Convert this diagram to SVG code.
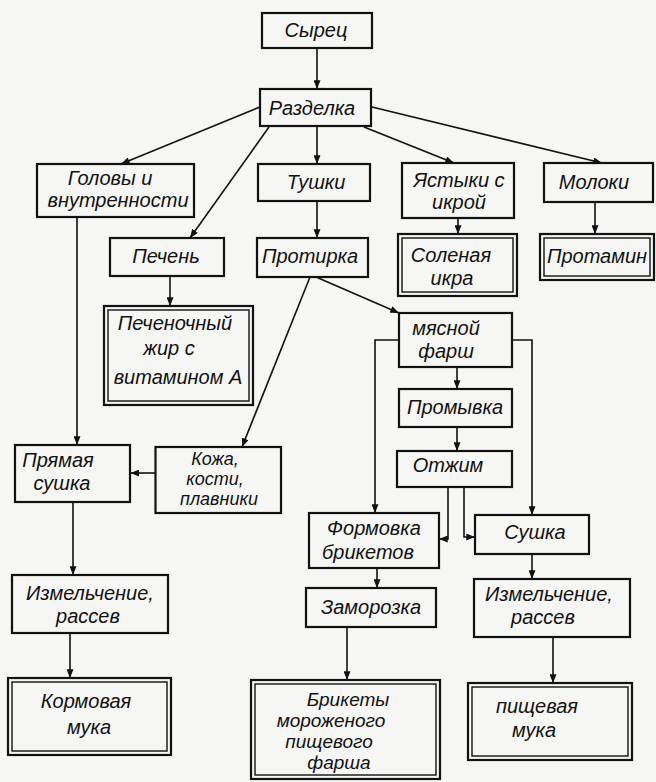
<svg xmlns="http://www.w3.org/2000/svg" width="656" height="782" viewBox="0 0 656 782">
<defs>
<marker id="ah" viewBox="0 0 10 8" refX="10" refY="4" markerWidth="9" markerHeight="7" markerUnits="userSpaceOnUse" orient="auto">
<path d="M0,0 L10,4 L0,8 Z" fill="#111"/>
</marker>
<style>
.b{fill:none;stroke:#111;stroke-width:2.2}
.i{fill:none;stroke:#111;stroke-width:1.4}
.c{fill:none;stroke:#111;stroke-width:1.6;marker-end:url(#ah)}
text{font-family:"Liberation Sans","DejaVu Sans",sans-serif;font-style:italic;font-size:20px;fill:#111;text-anchor:middle}
.s{font-size:18px}
.m{font-size:19px}
</style>
</defs>
<rect width="656" height="782" fill="#f6f6f4"/>

<g id="connectors">
<path class="c" d="M317,48 V89"/>
<path class="c" d="M260,107 L121,164"/>
<path class="c" d="M269,127 L190,238"/>
<path class="c" d="M317,126 V164"/>
<path class="c" d="M364,127 L454,163"/>
<path class="c" d="M372,107 L602,163"/>
<path class="c" d="M77,217 V445"/>
<path class="c" d="M170,276 V306"/>
<path class="c" d="M317,201 V238"/>
<path class="c" d="M458,218 V234"/>
<path class="c" d="M595,202 V234"/>
<path class="c" d="M316,277 L399,313"/>
<path class="c" d="M310,277 L242,447"/>
<path class="c" d="M155.5,473 H130.5"/>
<path class="c" d="M399,340 H375 V513"/>
<path class="c" d="M512,340 H532 V515"/>
<path class="c" d="M457,367 V389"/>
<path class="c" d="M457,427 V451"/>
<path class="c" d="M448,487 V539 H439"/>
<path class="c" d="M464,487 V537 H475"/>
<path class="c" d="M73,502 V575"/>
<path class="c" d="M70,633 V678"/>
<path class="c" d="M377,568 V588"/>
<path class="c" d="M347,627 V680"/>
<path class="c" d="M532,554 V579"/>
<path class="c" d="M553,637 V683"/>
</g>

<g id="syrec"><rect class="b" x="262" y="13" width="110" height="35"/><text x="316" y="37">Сырец</text></g>
<g id="razdelka"><rect class="b" x="260" y="89" width="111" height="37"/><text x="312" y="115">Разделка</text></g>
<g id="golovy"><rect class="b" x="37" y="164" width="157" height="53"/><text x="110" y="185">Головы и</text><text x="118" y="207">внутренности</text></g>
<g id="tushki"><rect class="b" x="258" y="164" width="112" height="37"/><text x="316" y="189">Тушки</text></g>
<g id="yastyki"><rect class="b" x="402" y="163" width="112" height="55"/><text x="459" y="187">Ястыки с</text><text x="459" y="209">икрой</text></g>
<g id="moloki"><rect class="b" x="544" y="163" width="109" height="39"/><text x="594" y="189">Молоки</text></g>
<g id="pechen"><rect class="b" x="110" y="238" width="114" height="38"/><text x="166" y="263">Печень</text></g>
<g id="protirka"><rect class="b" x="257" y="238" width="111" height="39"/><text x="310" y="263">Протирка</text></g>
<g id="ikra"><rect class="b" x="398" y="234" width="119" height="62"/><rect class="i" x="402" y="238" width="111" height="54"/><text x="451" y="262">Соленая</text><text x="452" y="285">икра</text></g>
<g id="protamin"><rect class="b" x="540" y="234" width="114" height="46"/><rect class="i" x="544" y="238" width="106" height="38"/><text x="597" y="263">Протамин</text></g>
<g id="zhir"><rect class="b" x="104" y="306" width="149" height="99"/><rect class="i" x="108" y="310" width="141" height="91"/><text x="175" y="330">Печеночный</text><text x="169" y="355">жир с</text><text x="178" y="384">витамином А</text></g>
<g id="farsh"><rect class="b" x="399" y="313" width="113" height="54"/><text x="446" y="335">мясной</text><text x="446" y="358">фарш</text></g>
<g id="promyvka"><rect class="b" x="399" y="389" width="113" height="38"/><text x="455" y="414">Промывка</text></g>
<g id="otzhim"><rect class="b" x="397" y="451" width="115" height="36"/><text x="448" y="472">Отжим</text></g>
<g id="pryamaya"><rect class="b" x="15" y="445" width="115" height="57"/><text x="58" y="467">Прямая</text><text x="62" y="490">сушка</text></g>
<g id="kozha"><rect class="b" x="155.5" y="447" width="125.5" height="66"/><text class="s" x="215" y="465">Кожа,</text><text class="s" x="215" y="485">кости,</text><text class="s" x="219" y="505">плавники</text></g>
<g id="formovka"><rect class="b" x="309" y="513" width="130" height="55"/><text x="374" y="535">Формовка</text><text x="368" y="559">брикетов</text></g>
<g id="sushka"><rect class="b" x="475" y="515" width="114" height="39"/><text x="535" y="539">Сушка</text></g>
<g id="izm1"><rect class="b" x="12" y="575" width="156" height="58"/><text x="90" y="600">Измельчение,</text><text x="88" y="623">рассев</text></g>
<g id="zamorozka"><rect class="b" x="306" y="588" width="130" height="39"/><text x="371" y="614">Заморозка</text></g>
<g id="izm2"><rect class="b" x="474" y="579" width="156" height="58"/><text x="549" y="601">Измельчение,</text><text x="543" y="624">рассев</text></g>
<g id="kormovaya"><rect class="b" x="8" y="678" width="163" height="77"/><rect class="i" x="12" y="682" width="155" height="69"/><text x="86" y="708">Кормовая</text><text x="89" y="734">мука</text></g>
<g id="brikety"><rect class="b" x="251" y="680" width="189" height="99"/><rect class="i" x="255" y="684" width="181" height="91"/><text class="m" x="348" y="706">Брикеты</text><text class="m" x="331" y="727">мороженого</text><text class="m" x="329" y="748">пищевого</text><text class="m" x="339" y="769">фарша</text></g>
<g id="pishchevaya"><rect class="b" x="468" y="683" width="164" height="77"/><rect class="i" x="472" y="687" width="156" height="69"/><text x="537" y="713">пищевая</text><text x="534" y="737">мука</text></g>
</svg>
